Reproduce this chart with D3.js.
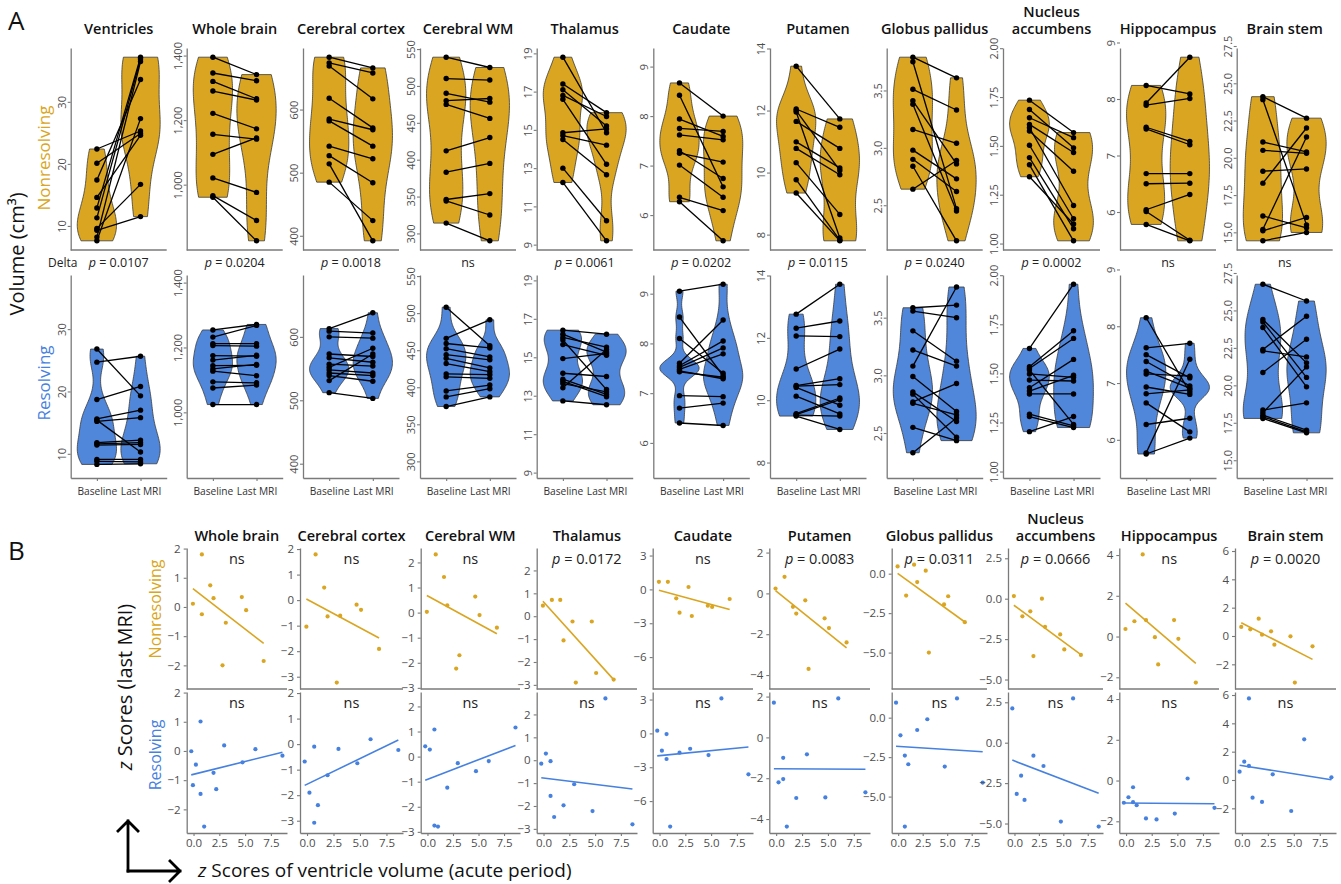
<!DOCTYPE html>
<html>
<head>
<meta charset="utf-8">
<script src="https://cdn.jsdelivr.net/npm/d3@7"></script>
<style>
  body { margin: 0; background: #fff; }
  svg { font-family: "Open Sans", "Noto Sans", sans-serif; }
</style>
</head>
<body>
<svg id="chart" width="1341" height="884"></svg>
<script>
// ---------- Panel A: regional volumes (cm³), pairs of [Baseline, Last MRI] ----------
const regionsA = ["Ventricles", "Whole brain", "Cerebral cortex", "Cerebral WM", "Thalamus",
  "Caudate", "Putamen", "Globus pallidus", "Nucleus accumbens", "Hippocampus", "Brain stem"];
const timepoints = ["Baseline", "Last MRI"];

const ventriclesNonres = [[22.4,25.3],[20.1,24.9],[17.4,33.6],[14.6,24.6],[12.9,37.2],[11.3,36.9],[9.6,16.7],[9.3,11.5],[8.2,36.5],[7.6,27.3]];
const ventriclesRes = [[26.8,19.3],[24.7,25.65],[18.7,20.8],[15.6,17.0],[15.4,10.3],[15.2,15.8],[11.8,12.2],[11.6,11.8],[11.4,11.5],[9.1,9.1],[8.8,8.7],[8.3,8.4]];
const wholeBrainNonres = [[1395,1341],[1346,1322],[1320,1266],[1290,1262],[1221,1173],[1156,1141],[1094,1145],[1021,976],[966,889],[961,826]];
const wholeBrainRes = [[1254,1271],[1232,1268],[1212,1212],[1206,1204],[1175,1173],[1161,1176],[1144,1145],[1134,1148],[1127,1113],[1094,1091],[1075,1084],[1024,1024]];
const cortexNonres = [[683,666],[674,658],[669,617],[618,571],[585,568],[582,542],[542,522],[527,484],[514,392],[485,424]];
const cortexRes = [[613,638],[609,606],[600,598],[573,569],[567,560],[557,554],[552,582],[548,543],[543,539],[539,530],[531,573],[512,503]];
const whiteMatterNonres = [[539,525],[510,508],[490,478],[480,483],[475,456],[412,430],[383,395],[346,354],[344,325],[314,290]];
const whiteMatterRes = [[508,456],[466,491],[459,453],[452,441],[444,437],[439,426],[432,421],[418,417],[414,412],[395,403],[387,398],[374,387]];
const thalamusNonres = [[18.8,14.85],[17.4,15.9],[17.1,15.2],[16.8,15.7],[16.6,13.2],[14.85,15.05],[14.7,14.2],[14.5,12.65],[13.0,10.25],[12.25,9.2]];
const thalamusRes = [[16.41,16.2],[16.2,15.27],[16.03,15.53],[15.9,13.32],[15.66,15.1],[14.93,15.2],[14.17,14.0],[13.86,13.07],[13.75,12.95],[13.63,13.2],[13.41,15.4],[12.73,12.53]];
const caudateNonres = [[8.67,8.0],[8.42,6.57],[7.94,7.59],[7.75,7.69],[7.62,7.52],[7.30,6.74],[7.25,7.07],[7.01,6.36],[6.36,6.09],[6.27,5.48]];
const caudateRes = [[9.05,9.19],[8.53,7.35],[8.1,7.4],[7.6,8.47],[7.55,8.05],[7.52,7.91],[7.48,7.79],[7.45,7.29],[7.43,7.32],[6.95,6.93],[6.7,6.8],[6.4,6.35]];
const putamenNonres = [[13.43,11.73],[12.05,11.46],[12.0,10.07],[11.95,7.89],[11.65,10.78],[10.99,10.15],[10.78,9.93],[10.32,8.65],[9.77,7.82],[9.34,7.8]];
const putamenRes = [[12.76,13.72],[12.31,12.54],[12.06,12.04],[11.0,11.64],[10.47,10.69],[10.45,10.5],[10.41,9.84],[10.13,9.56],[9.57,10.07],[9.54,10.02],[9.52,9.49],[9.49,9.06]];
const globusNonres = [[3.79,3.61],[3.75,2.47],[3.51,3.33],[3.41,2.86],[3.38,2.45],[3.16,3.04],[2.98,2.73],[2.90,2.62],[2.84,2.19],[2.64,2.89]];
const globusRes = [[3.586,3.609],[3.557,3.5],[3.386,3.123],[3.22,3.08],[3.08,3.766],[2.99,2.686],[2.857,2.6],[2.837,2.463],[2.77,2.929],[2.757,2.657],[2.549,2.434],[2.329,2.63]];
const accumbensNonres = [[1.734,1.568],[1.686,1.49],[1.644,1.542],[1.61,1.466],[1.593,1.195],[1.576,1.37],[1.503,1.127],[1.44,1.076],[1.403,1.014],[1.342,1.10]];
const accumbensRes = [[1.627,1.954],[1.534,1.717],[1.525,1.678],[1.517,1.24],[1.497,1.48],[1.466,1.461],[1.427,1.571],[1.41,1.49],[1.395,1.395],[1.292,1.232],[1.28,1.224],[1.203,1.28]];
const hippocampusNonres = [[8.24,8.09],[7.93,8.74],[7.89,8.01],[7.50,7.25],[7.47,7.19],[6.68,6.68],[6.50,6.51],[6.04,6.31],[6.01,5.50],[5.78,5.49]];
const hippocampusRes = [[8.15,6.84],[7.62,7.7],[7.5,7.09],[7.38,6.95],[7.21,6.91],[7.16,7.12],[6.93,6.8],[6.81,6.88],[6.65,6.14],[6.27,6.38],[5.77,7.42],[5.75,6.03]];
const brainStemNonres = [[24.1,22.66],[23.9,15.5],[21.06,20.4],[20.5,20.3],[19.1,19.25],[18.3,22.0],[16.1,15.3],[15.2,21.4],[15.1,16.0],[14.43,14.99]];
const brainStemRes = [[26.75,25.63],[24.4,21.5],[24.23,20.53],[23.86,19.9],[22.39,24.61],[22.3,21.9],[20.86,23.08],[18.35,18.83],[18.17,21.23],[18.01,17.01],[17.9,16.9],[17.79,16.83]];

const volumeNonres = [ventriclesNonres, wholeBrainNonres, cortexNonres, whiteMatterNonres, thalamusNonres,
  caudateNonres, putamenNonres, globusNonres, accumbensNonres, hippocampusNonres, brainStemNonres];
const volumeRes = [ventriclesRes, wholeBrainRes, cortexRes, whiteMatterRes, thalamusRes,
  caudateRes, putamenRes, globusRes, accumbensRes, hippocampusRes, brainStemRes];

const volumeTicks = [[10,20,30],[1000,1200,1400],[400,500,600],[300,350,400,450,500,550],[9,11,13,15,17,19],
  [6,7,8,9],[8,10,12,14],[2.5,3.0,3.5],[1.00,1.25,1.50,1.75,2.00],[6,7,8,9],[15.0,17.5,20.0,22.5,25.0,27.5]];
const volumeTickFormats = ["d", ",", "d", "d", "d", "d", "d", ".1f", ".2f", "d", ".1f"];
const deltaLabels = ["p = 0.0107","p = 0.0204","p = 0.0018","ns","p = 0.0061","p = 0.0202","p = 0.0115","p = 0.0240","p = 0.0002","ns","ns"];

// ---------- Panel B: z scores at last MRI against acute ventricle z scores ----------
// null marks a patient without a value for that region
const regionsB = regionsA.slice(1);
const zVentNonres = [-0.06, 0.81, 0.81, 1.62, 1.94, 2.81, 3.13, 4.68, 5.1, 6.8];
const zVentRes = [-0.22, -0.06, 0.23, 0.68, 0.68, 1.03, 1.94, 2.2, 2.97, 4.75, 6.0, 8.62];

const zWholeBrainNonres = [0.11, 1.8, -0.25, 0.74, 0.3, -2.0, -0.54, 0.34, -0.11, -1.85];
const zWholeBrainRes = [-0.01, -1.17, -0.47, 1.01, -1.47, -2.59, -0.75, -1.31, 0.19, -0.39, 0.06, -0.16];
const zCortexNonres = [-1.04, 1.79, null, 0.49, -0.64, -3.23, -0.61, -0.18, -0.38, -1.91];
const zCortexRes = [-0.68, null, -1.9, -0.1, -3.08, -2.39, -1.22, null, -0.19, -0.75, 0.19, -0.23];
const zWhiteMatterNonres = [0.03, 2.32, null, 1.42, 0.29, -2.23, -1.7, 0.64, -0.1, -0.6];
const zWhiteMatterRes = [0.41, null, 0.28, 1.08, -2.75, -2.79, -1.24, null, -0.26, -0.58, -0.18, 1.16];
const zThalamusNonres = [0.46, 0.71, null, 0.71, -1.06, -0.23, -2.9, -0.23, -2.48, -2.77];
const zThalamusRes = [-0.15, null, 0.29, -0.04, -1.56, -2.48, -1.97, null, -1.05, -2.22, 2.7, -2.8];
const zCaudateNonres = [0.67, 0.67, null, -0.79, -2.06, 0.21, -2.36, -1.45, -1.55, -0.85];
const zCaudateRes = [0.24, null, -1.53, -0.06, -2.27, -8.26, -1.71, null, -1.36, -1.92, 3.1, -3.63];
const zPutamenNonres = [0.24, 0.81, null, -0.66, -0.99, -0.34, -3.7, -1.22, -1.7, -2.4];
const zPutamenRes = [1.7, null, -2.2, -1.0, -2.04, -4.37, -2.97, null, -0.83, -2.94, 1.91, -2.69];
const zGlobusNonres = [0.46, -1.39, null, 0.57, -0.53, 0.19, -5.0, -1.95, -1.43, -3.07];
const zGlobusRes = [0.95, null, -1.12, -2.4, -6.9, -2.95, -0.78, null, -0.1, -3.1, 1.22, -4.11];
const zAccumbensNonres = [0.16, -1.09, null, -0.78, -3.55, 0.0, -1.74, -2.21, -3.14, -3.48];
const zAccumbensRes = [2.12, null, -3.17, -2.04, null, -3.54, -0.8, null, -1.44, -4.88, 2.74, -5.19];
const zHippocampusNonres = [0.37, 0.75, null, 4.03, 0.81, -0.03, -1.37, 0.81, -0.11, -2.26];
const zHippocampusRes = [-1.09, null, -0.82, -0.33, -1.06, -1.21, -1.86, null, -1.91, -1.62, 0.1, -1.34];
const zBrainStemNonres = [0.64, 0.47, null, 1.22, 0.09, 0.33, -0.61, -0.02, -3.29, -0.73];
const zBrainStemRes = [0.59, null, 1.29, 5.76, 0.99, -1.25, -1.55, null, 0.4, -2.19, 2.87, 0.19];

const zNonres = [zWholeBrainNonres, zCortexNonres, zWhiteMatterNonres, zThalamusNonres, zCaudateNonres,
  zPutamenNonres, zGlobusNonres, zAccumbensNonres, zHippocampusNonres, zBrainStemNonres];
const zRes = [zWholeBrainRes, zCortexRes, zWhiteMatterRes, zThalamusRes, zCaudateRes,
  zPutamenRes, zGlobusRes, zAccumbensRes, zHippocampusRes, zBrainStemRes];

const zTicksX = [0, 2.5, 5.0, 7.5];
const zTicksY = [[-2,-1,0,1,2],[-3,-2,-1,0,1,2],[-3,-2,-1,0,1,2],[-3,-2,-1,0,1,2],[-6,-3,0,3],
  [-4,-2,0,2],[-5,-2.5,0],[-5,-2.5,0,2.5],[-2,0,2,4],[-2,0,2,4,6]];
const zTickFormats = ["d","d","d","d","d","d",".1f",".1f","d","d"];
const corrNonresLabels = ["ns","ns","ns","p = 0.0172","ns","p = 0.0083","p = 0.0311","p = 0.0666","ns","p = 0.0020"];
const corrResLabels = ["ns","ns","ns","ns","ns","ns","ns","ns","ns","ns"];

// ---------- styling and layout ----------
const GOLD = "#DAA520";
const BLUE_FILL = "#5087DA";
const BLUE = "#4681E0";
const AXIS_COLOR = "#7a7a7a";
const TICK_TEXT = "#4d4d4d";

const aLeft = [70.7, 186.7, 303, 420, 536.7, 653.3, 770, 886.7, 1003, 1120, 1236.7];
const aWidth = [96, 96, 96, 96, 96, 96, 96, 96, 97, 96, 96];
const aRows = [{ top: 48, bottom: 250 }, { top: 275, bottom: 478 }];

const bLeft = [186.7, 300, 420.7, 536.7, 652.7, 769.3, 891.7, 1008, 1119.3, 1235];
const bRight = [287, 403, 520, 637, 753, 870, 987, 1103, 1219, 1336];
const bRows = [{ top: 548, bottom: 689 }, { top: 692, bottom: 833 }];

const svg = d3.select("#chart");

function padded(values) {
  const [lo, hi] = d3.extent(values);
  const r = hi - lo;
  return [lo - 0.05 * r, hi + 0.05 * r];
}

function titleLines(name) {
  return name === "Nucleus accumbens" ? ["Nucleus", "accumbens"] : [name];
}

function statLabel(sel, label) {
  if (label.startsWith("p")) {
    sel.append("tspan").attr("font-style", "italic").text("p");
    sel.append("tspan").text(label.slice(1));
  } else {
    sel.text(label);
  }
}

function styleAxis(g) {
  g.select(".domain").attr("stroke", AXIS_COLOR).attr("stroke-width", 1.3);
  g.selectAll(".tick line").attr("stroke", AXIS_COLOR).attr("stroke-width", 1.1);
  g.selectAll(".tick text").attr("fill", TICK_TEXT);
}

// Gaussian kernel density (R's nrd0 bandwidth), trimmed to the data range
function violinPath(vals, xc, halfMax, y) {
  const n = vals.length;
  const sd = d3.deviation(vals);
  const iqr = d3.quantile(vals, 0.75) - d3.quantile(vals, 0.25);
  let bw = 0.9 * Math.min(sd, iqr / 1.34) * Math.pow(n, -0.2);
  if (!(bw > 0)) bw = 0.9 * sd * Math.pow(n, -0.2);
  const [lo, hi] = d3.extent(vals);
  const grid = d3.range(65).map(k => lo + (hi - lo) * k / 64);
  const dens = grid.map(g => d3.sum(vals, v => Math.exp(-0.5 * ((g - v) / bw) ** 2)));
  const m = d3.max(dens);
  const right = grid.map((g, k) => [xc + halfMax * dens[k] / m, y(g)]);
  const left = grid.map((g, k) => [xc - halfMax * dens[k] / m, y(g)]).reverse();
  return d3.line()(right.concat(left)) + "Z";
}

// ---------- Panel A ----------
svg.append("text").attr("x", 8).attr("y", 30).attr("font-size", 26).attr("fill", "#111").text("A");
svg.append("text").attr("transform", "translate(24,254) rotate(-90)").attr("text-anchor", "middle")
  .attr("font-size", 20).attr("fill", "#111").text("Volume (cm³)");
svg.append("text").attr("transform", "translate(50,158) rotate(-90)").attr("text-anchor", "middle")
  .attr("font-size", 17).attr("fill", GOLD).text("Nonresolving");
svg.append("text").attr("transform", "translate(50,383) rotate(-90)").attr("text-anchor", "middle")
  .attr("font-size", 17).attr("fill", BLUE).text("Resolving");
svg.append("text").attr("x", 48).attr("y", 267).attr("font-size", 12).attr("fill", "#222").text("Delta");

regionsA.forEach((name, i) => {
  const left = aLeft[i], right = aLeft[i] + aWidth[i];
  const cx = (left + right) / 2;
  const x = d3.scalePoint().domain(timepoints).range([left, right]).padding(0.6);
  const halfMax = 0.45 * x.step();
  const allVals = volumeNonres[i].concat(volumeRes[i]).flat();
  const domain = padded(allVals);
  const fmt = d3.format(volumeTickFormats[i]);

  const lines = titleLines(name);
  lines.forEach((t, k) => {
    svg.append("text").attr("x", cx).attr("y", 34 - (lines.length - 1 - k) * 17.5)
      .attr("text-anchor", "middle").attr("font-size", 14.5).attr("font-weight", 600)
      .attr("fill", "#111").text(t);
  });

  const groups = [
    { pairs: volumeNonres[i], fill: GOLD, row: aRows[0] },
    { pairs: volumeRes[i], fill: BLUE_FILL, row: aRows[1] }
  ];
  groups.forEach((grp, r) => {
    const y = d3.scaleLinear().domain(domain).range([grp.row.bottom, grp.row.top]);
    const g = svg.append("g");

    timepoints.forEach((tp, t) => {
      const vals = grp.pairs.map(p => p[t]);
      g.append("path").attr("d", violinPath(vals, x(tp), halfMax, y))
        .attr("fill", grp.fill).attr("stroke", "#3a3a3a").attr("stroke-width", 0.8);
    });

    g.selectAll("line.pair").data(grp.pairs).join("line").attr("class", "pair")
      .attr("x1", x(timepoints[0])).attr("x2", x(timepoints[1]))
      .attr("y1", d => y(d[0])).attr("y2", d => y(d[1]))
      .attr("stroke", "#000").attr("stroke-width", 1.3);
    timepoints.forEach((tp, t) => {
      g.selectAll("circle.t" + t).data(grp.pairs).join("circle").attr("class", "t" + t)
        .attr("cx", x(tp)).attr("cy", d => y(d[t])).attr("r", 2.7).attr("fill", "#000");
    });

    const yAxis = svg.append("g").attr("transform", `translate(${left},0)`)
      .call(d3.axisLeft(y).tickValues(volumeTicks[i]).tickFormat(fmt).tickSize(3).tickSizeOuter(0));
    yAxis.selectAll(".tick text").attr("transform", "rotate(-90)").attr("x", 0).attr("y", -5)
      .attr("dy", 0).attr("text-anchor", "middle").attr("font-size", 11)
      .attr("font-family", "'Open Sans', sans-serif");
    styleAxis(yAxis);

    if (r === 0) {
      svg.append("line").attr("x1", left).attr("x2", right)
        .attr("y1", grp.row.bottom).attr("y2", grp.row.bottom)
        .attr("stroke", AXIS_COLOR).attr("stroke-width", 1.3);
    } else {
      const xAxis = svg.append("g").attr("transform", `translate(0,${grp.row.bottom})`)
        .call(d3.axisBottom(x).tickSize(3).tickSizeOuter(0));
      xAxis.selectAll(".tick text").attr("font-size", 10.2).attr("dy", "1.1em")
        .attr("font-family", "'Open Sans', sans-serif");
      styleAxis(xAxis);
      xAxis.selectAll(".tick text").attr("fill", "#333");
    }
  });

  const lab = svg.append("text").attr("x", cx).attr("y", 267).attr("text-anchor", "middle")
    .attr("font-size", 12.5).attr("fill", "#222");
  statLabel(lab, deltaLabels[i]);
});

// ---------- Panel B ----------
svg.append("text").attr("x", 8).attr("y", 560).attr("font-size", 26).attr("fill", "#111").text("B");
const zLabel = svg.append("text").attr("transform", "translate(132,687) rotate(-90)")
  .attr("text-anchor", "middle").attr("font-size", 20).attr("fill", "#111");
zLabel.append("tspan").attr("font-style", "italic").text("z");
zLabel.append("tspan").text(" Scores (last MRI)");
svg.append("text").attr("transform", "translate(161,609) rotate(-90)").attr("text-anchor", "middle")
  .attr("font-size", 16).attr("fill", GOLD).text("Nonresolving");
svg.append("text").attr("transform", "translate(161,755) rotate(-90)").attr("text-anchor", "middle")
  .attr("font-size", 16).attr("fill", BLUE).text("Resolving");

// corner arrows for the axis directions
const arrow = svg.append("g").attr("fill", "none").attr("stroke", "#000").attr("stroke-width", 2.8)
  .attr("stroke-linecap", "square").attr("stroke-linejoin", "miter");
arrow.append("path").attr("d", "M128,871 L128,821 M118,831 L128,821 L138,831");
arrow.append("path").attr("d", "M128,871 L180,871 M170,861 L180,871 L170,881");
const xTitle = svg.append("text").attr("x", 198).attr("y", 877).attr("font-size", 19).attr("fill", "#111");
xTitle.append("tspan").attr("font-style", "italic").text("z");
xTitle.append("tspan").text(" Scores of ventricle volume (acute period)");

const xDomainB = padded(zVentNonres.concat(zVentRes));

function linearFit(pts) {
  const mx = d3.mean(pts, p => p[0]), my = d3.mean(pts, p => p[1]);
  let sxy = 0, sxx = 0;
  pts.forEach(([xv, yv]) => { sxy += (xv - mx) * (yv - my); sxx += (xv - mx) ** 2; });
  const b = sxy / sxx;
  return { a: my - b * mx, b };
}

regionsB.forEach((name, i) => {
  const left = bLeft[i], right = bRight[i];
  const cx = (left + right) / 2;
  const x = d3.scaleLinear().domain(xDomainB).range([left, right]);
  const yDomain = padded(zNonres[i].concat(zRes[i]).filter(v => v !== null));
  const fmt = d3.format(zTickFormats[i]);

  const lines = titleLines(name);
  lines.forEach((t, k) => {
    svg.append("text").attr("x", cx).attr("y", 541 - (lines.length - 1 - k) * 17)
      .attr("text-anchor", "middle").attr("font-size", 14.5).attr("font-weight", 600)
      .attr("fill", "#111").text(t);
  });

  const groups = [
    { xs: zVentNonres, ys: zNonres[i], color: GOLD, row: bRows[0], label: corrNonresLabels[i] },
    { xs: zVentRes, ys: zRes[i], color: BLUE, row: bRows[1], label: corrResLabels[i] }
  ];
  groups.forEach((grp, r) => {
    const y = d3.scaleLinear().domain(yDomain).range([grp.row.bottom, grp.row.top]);
    const pts = grp.xs.map((xv, k) => [xv, grp.ys[k]]).filter(p => p[1] !== null);
    const g = svg.append("g");
    const fit = linearFit(pts);
    const [x0, x1] = d3.extent(pts, p => p[0]);
    g.append("line").attr("x1", x(x0)).attr("x2", x(x1))
      .attr("y1", y(fit.a + fit.b * x0)).attr("y2", y(fit.a + fit.b * x1))
      .attr("stroke", grp.color).attr("stroke-width", 1.6);
    g.selectAll("circle").data(pts).join("circle")
      .attr("cx", d => x(d[0])).attr("cy", d => y(d[1])).attr("r", 2.1)
      .attr("fill", grp.color);

    const yAxis = svg.append("g").attr("transform", `translate(${left},0)`)
      .call(d3.axisLeft(y).tickValues(zTicksY[i]).tickFormat(fmt).tickSize(3).tickSizeOuter(0));
    yAxis.selectAll(".tick text").attr("font-size", 11.5).attr("font-family", "'Open Sans', sans-serif");
    styleAxis(yAxis);

    if (r === 0) {
      svg.append("line").attr("x1", left).attr("x2", right)
        .attr("y1", grp.row.bottom).attr("y2", grp.row.bottom)
        .attr("stroke", AXIS_COLOR).attr("stroke-width", 1.3);
    } else {
      const xAxis = svg.append("g").attr("transform", `translate(0,${grp.row.bottom})`)
        .call(d3.axisBottom(x).tickValues(zTicksX).tickFormat(d3.format(".1f")).tickSize(3).tickSizeOuter(0));
      xAxis.selectAll(".tick text").attr("font-size", 11.5).attr("font-family", "'Open Sans', sans-serif");
      styleAxis(xAxis);
    }

    const lab = svg.append("text").attr("x", cx).attr("y", grp.row.top + 16)
      .attr("text-anchor", "middle").attr("font-size", 14.5).attr("fill", "#222");
    statLabel(lab, grp.label);
  });
});
</script>
</body>
</html>
